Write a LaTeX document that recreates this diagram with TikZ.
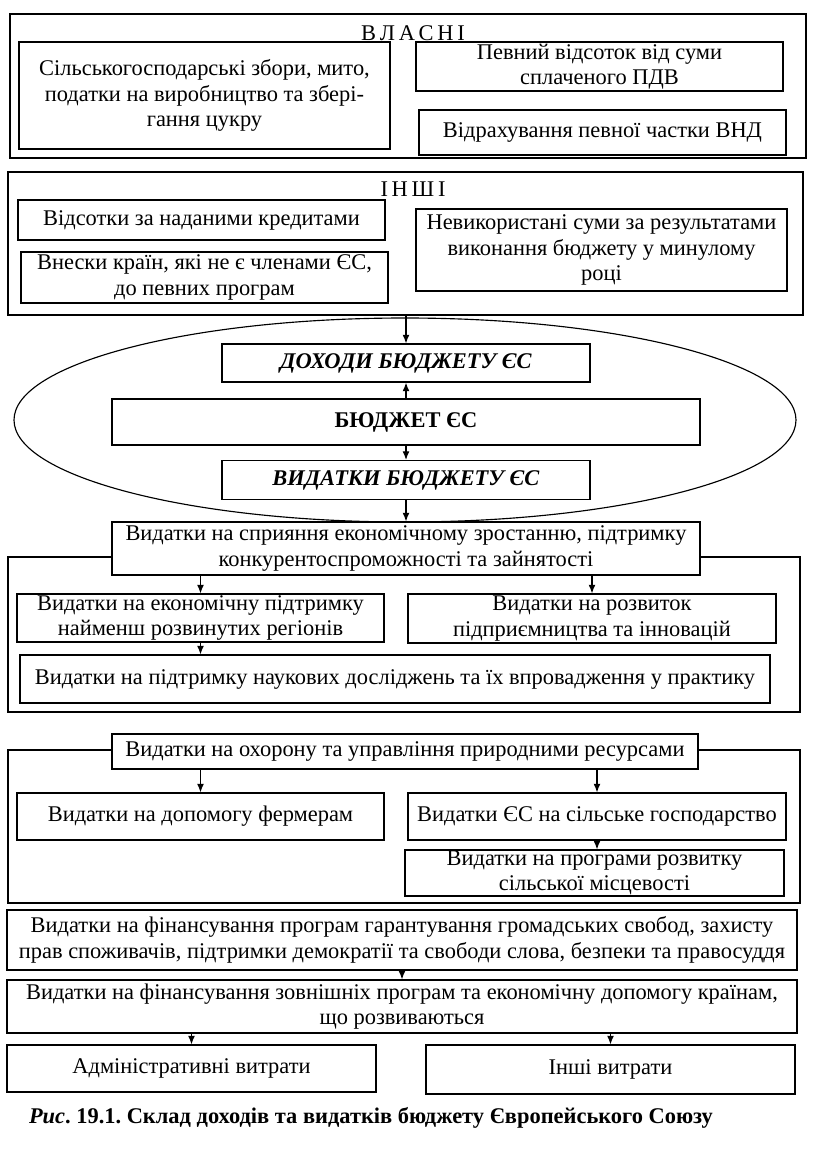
\documentclass[tikz,border=0pt]{standalone}
\usepackage{fontspec}
\setmainfont{Liberation Serif}
\usetikzlibrary{positioning}
\usetikzlibrary{arrows.meta}
\usetikzlibrary{shapes.geometric}
\newcommand{\pxu}{0.0185cm}
\frenchspacing

\begin{document}
\begin{tikzpicture}[
            x = \pxu, y = -\pxu, % one unit = one pixel of the page
            > = {Latex[length=4.5pt, width=3.6pt]}, % arrow head style
            semithick, % line style
            font = \fontsize{11.8}{13.4}\selectfont
        ]

        \tikzstyle{box}=[
            draw,
            fill = white,
            align = center,
            inner sep = 0pt
        ]
        \tikzstyle{group}=[draw, inner sep = 0pt]
        \tikzset{sz/.style 2 args={minimum width=#1*\pxu, minimum height=#2*\pxu}}

        \useasboundingbox (0,0) rectangle (831,1159);

	% own revenues
        \node[group, sz={796}{144}] (VL) at (408,86) {};
        \node (VLT) at (413,33) {В\,Л\,А\,С\,Н\,І};
        \node[box, sz={371}{107}] (VL1) at (204.5,95.5) {Сільськогосподарські збори, мито,\\ податки на виробництво та збері-\\ гання цукру};
        \node[box, sz={367}{49}] (VL2) at (599.5,66.5) {Певний відсоток від суми\\ сплаченого ПДВ};
        \node[box, sz={367}{45}] (VL3) at (602.5,132.5) {Відрахування певної частки ВНД};

        % other revenues
        \node[group, sz={795}{143}] (IN) at (405.5,243.5) {};
        \node (INT) at (413,189) {І\,Н\,Ш\,І};
        \node[box, sz={367}{40}] (IN1) at (201.5,220) {Відсотки за наданими кредитами};
        \node[box, sz={367}{51}] (IN2) at (204.5,277.5) {Внески країн, які не є членами ЄС,\\ до певних програм};
        \node[box, sz={371}{82}] (IN3) at (601.5,250) {Невикористані суми за результатами\\ виконання бюджету у минулому\\ році};

        % budget
        \node[draw, ellipse, inner sep = 0pt, sz={782}{204}] (OV) at (405,420) {};
        \node[box, sz={368}{38}] (DOH) at (406,363) {\textbf{\textit{ДОХОДИ БЮДЖЕТУ ЄС}}};
        \node[box, sz={588}{46}] (BUD) at (406,422) {\textbf{БЮДЖЕТ ЄС}};
        \node[box, sz={368}{39}] (VYD) at (406,480) {\textbf{\textit{ВИДАТКИ БЮДЖЕТУ ЄС}}};

        \path[->] (DOH.north |- IN.south) edge (DOH.north);
        \path[->] (BUD.north) edge (DOH.south);
        \path[->] (BUD.south) edge (VYD.north);

        % growth and competitiveness
        \node[group, sz={792}{155}] (G1) at (404,634.5) {};
        \node[box, sz={588}{53}] (H1) at (406,548.5) {Видатки на сприяння економічному зростанню, підтримку\\ конкурентоспроможності та зайнятості};
        \node[box, sz={367}{48}] (G1L) at (200.5,618) {Видатки на економічну підтримку\\ найменш розвинутих регіонів};
        \node[box, sz={368}{49}] (G1R) at (592,618.5) {Видатки на розвиток\\ підприємництва та інновацій};
        \node[box, sz={750}{48}] (G1W) at (395,679) {Видатки на підтримку наукових досліджень та їх впровадження у практику};

        \path[->] (VYD.south) edge (H1.north);
        \path[->] (G1L.north |- H1.south) edge (G1L.north);
        \path[->] (G1R.north |- H1.south) edge (G1R.north);
        \path[->] (G1L.south) edge (G1L.south |- G1W.north);

        % natural resources
        \node[group, sz={792}{153}] (G2) at (404,826.5) {};
        \node[box, sz={586}{35}] (H2) at (405,751.5) {Видатки на охорону та управління природними ресурсами};
        \node[box, sz={367}{47}] (G2L) at (200.5,816.5) {Видатки на допомогу фермерам};
        \node[box, sz={378}{47}] (G2R) at (597,816.5) {Видатки ЄС на сільське господарство};
        \node[box, sz={379}{46}] (G2S) at (594.5,873) {Видатки на програми розвитку\\ сільської місцевості};

        \path[->] (G2L.north |- H2.south) edge (G2L.north);
        \path[->] (G2R.north |- H2.south) edge (G2R.north);
        \path[->] (G2R.south) edge (G2R.south |- G2S.north);

        % remaining expenditures
        \node[box, sz={790}{60}] (B1) at (402,940) {Видатки на фінансування програм гарантування громадських свобод, захисту\\ прав споживачів, підтримки демократії та свободи слова, безпеки та правосуддя};
        \node[box, sz={790}{53}] (B2) at (402,1006.5) {Видатки на фінансування зовнішніх програм та економічну допомогу країнам,\\ що розвиваються};
        \node[box, sz={369}{47}] (ADM) at (191.5,1068.5) {Адміністративні витрати};
        \node[box, sz={369}{49}] (OTH) at (610.5,1069.5) {Інші витрати};

        \path[->] (B1.south) edge (B2.north);
        \path[->] (ADM.north |- B2.south) edge (ADM.north);
        \path[->] (OTH.north |- B2.south) edge (OTH.north);

        % caption
        \node (CAP) at (371,1118) {\textbf{\textit{Рис}. 19.1. Склад доходів та видатків бюджету Європейського Союзу}};

  \end{tikzpicture}
\end{document}
